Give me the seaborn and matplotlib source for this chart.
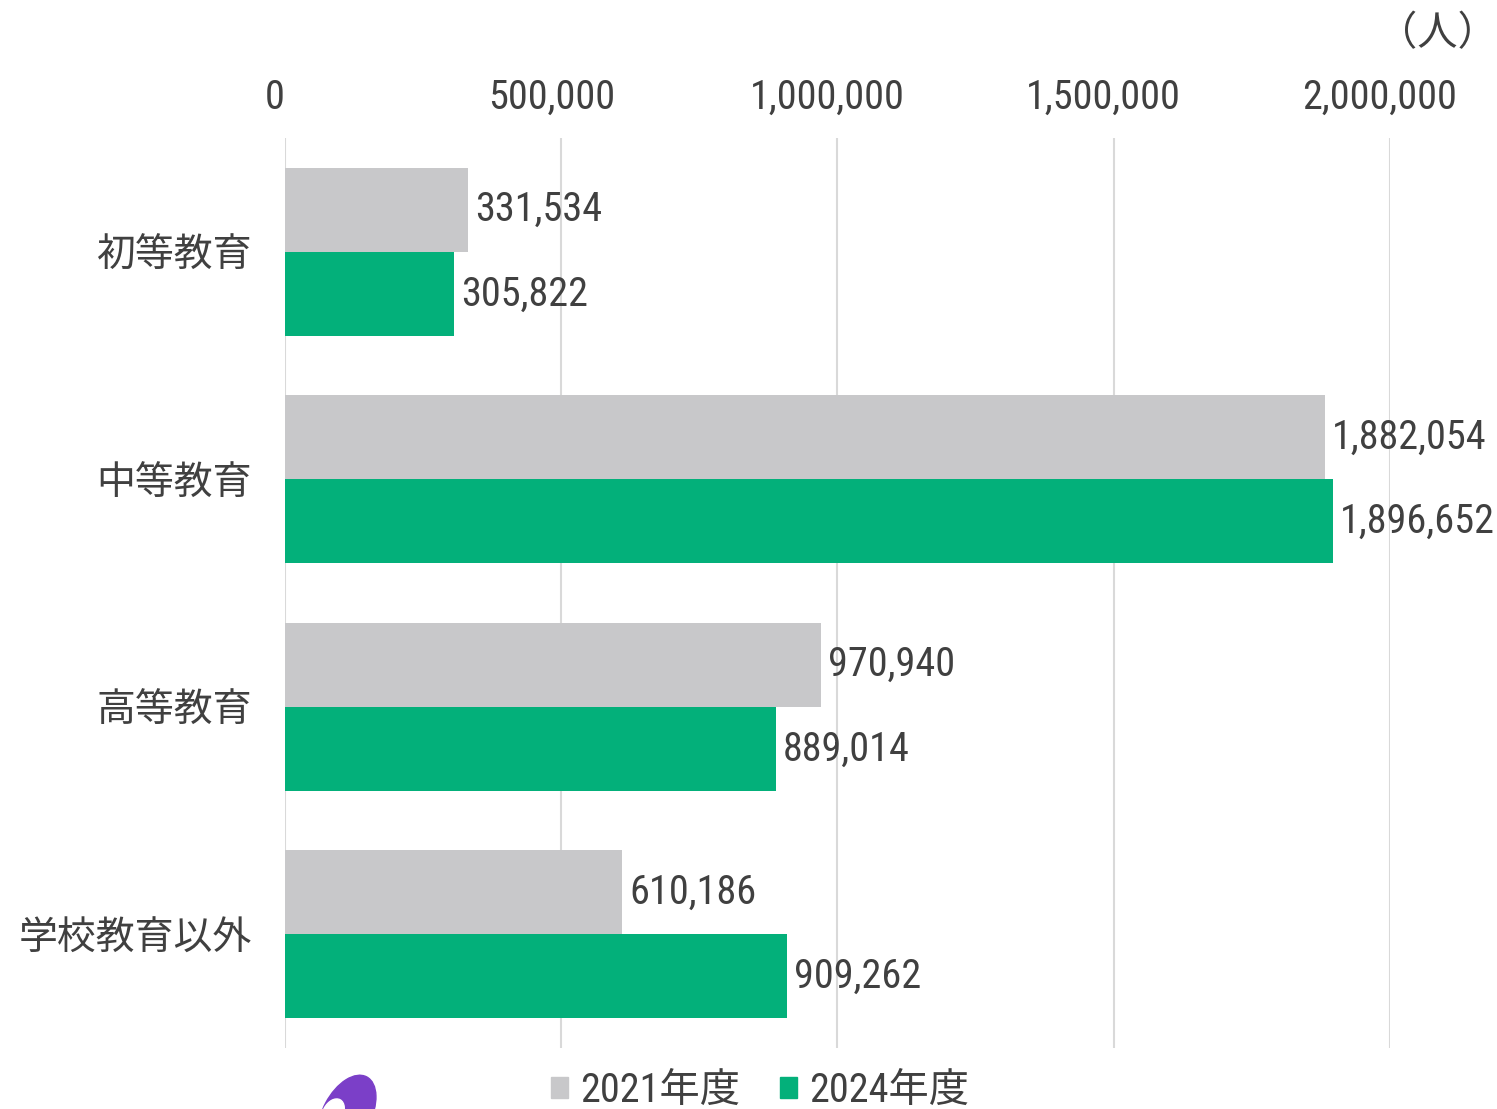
import pandas as pd
import matplotlib
matplotlib.use("Agg")
import matplotlib.pyplot as plt
import matplotlib.transforms as mtrans
import seaborn as sns
from matplotlib import font_manager
from matplotlib.patches import Ellipse, Patch

# data
categories = ["初等教育", "中等教育", "高等教育", "学校教育以外"]
years = ["2021年度", "2024年度"]
values_2021 = [331534, 1882054, 970940, 610186]
values_2024 = [305822, 1896652, 889014, 909262]
x_ticks = [0, 500000, 1000000, 1500000, 2000000]

gray = "#C8C8CA"
green = "#03B07A"
text_col = "#404040"

df = pd.DataFrame({
    "category": categories * 2,
    "year": [years[0]] * 4 + [years[1]] * 4,
    "value": values_2021 + values_2024,
})

sns.set_theme(style="white")
cjk = "Noto Sans CJK JP"

# condensed family for the digits
num_font = cjk
for cand in ["Roboto Condensed", "Open Sans Condensed", "Encode Sans Condensed",
             "Asap Condensed", "Archivo Narrow"]:
    try:
        font_manager.findfont(font_manager.FontProperties(family=cand),
                              fallback_to_default=False)
        num_font = cand
        break
    except Exception:
        pass
num_size = 29 if num_font != cjk else 26
plt.rcParams["font.family"] = [num_font, cjk, "DejaVu Sans"]

fig = plt.figure(figsize=(14.97, 11.09), dpi=100)
W, H = 1497, 1109
ax = fig.add_axes([285 / W, 1 - 1048 / H, 1105 / W, 910 / H])

sns.barplot(data=df, y="category", x="value", hue="year",
            palette=[gray, green], saturation=1, width=0.74, orient="h",
            order=categories, hue_order=years, legend=False, ax=ax,
            linewidth=0)

ax.set_xlim(0, 2000000)
ax.set_ylim(3.5, -0.5)
ax.set_xlabel("")
ax.set_ylabel("")
for s in ax.spines.values():
    s.set_visible(False)

ax.xaxis.tick_top()
ax.set_xticks(x_ticks)
ax.set_xticklabels([f"{t:,}" for t in x_ticks], color=text_col,
                   fontsize=num_size, family=[num_font, cjk])
ax.tick_params(axis="x", length=0, pad=15)
offset = mtrans.ScaledTranslation(-10 / 100, 0, fig.dpi_scale_trans)
for lab in ax.get_xticklabels():
    lab.set_transform(lab.get_transform() + offset)

ax.set_yticks(range(len(categories)))
ax.set_yticklabels(categories, fontsize=28, color=text_col, family=cjk)
ax.tick_params(axis="y", length=0, pad=24)

ax.grid(axis="x", color="#D9D9D9", linewidth=1.5)
ax.set_axisbelow(True)

for cont in ax.containers:
    ax.bar_label(cont, labels=[f"{v:,.0f}" for v in cont.datavalues],
                 padding=5, color=text_col, fontsize=num_size,
                 family=[num_font, cjk])

fig.text(1437 / W, 1 - 34 / H, "（人）", ha="center", va="center",
         fontsize=29, color=text_col, family=cjk)

handles = [Patch(color=gray), Patch(color=green)]
fig.legend(handles, years, loc="center", bbox_to_anchor=(760 / W, 1 - 1090 / H),
           ncol=2, frameon=False, handlelength=0.42,
           handleheight=0.42, handletextpad=0.3, columnspacing=1.0,
           labelcolor=text_col, prop={"family": [num_font, cjk], "size": 29})

# partial logo mark at bottom (display pixels, y up)
logo = Ellipse((347, H - 1114), 48, 84, angle=-28, color="#7B3FC8", transform=None)
hole = Ellipse((333, H - 1113), 20, 30, angle=-28, color="white", transform=None)
fig.patches.extend([logo, hole])

fig.savefig("out.png", dpi=100)
